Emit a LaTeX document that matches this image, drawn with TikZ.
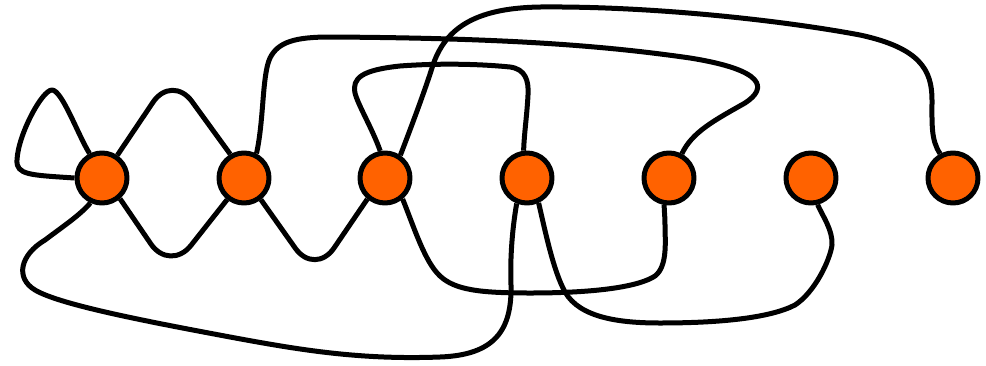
\documentclass[tikz,border=0pt]{standalone}
\usetikzlibrary{calc}
\definecolor{knotOrange}{HTML}{FF6200}
\definecolor{knotInk}{HTML}{000000}

\begin{document}
\begin{tikzpicture}[x=1pt,y=-1pt,line cap=round,line join=round]
\path[fill=white] (0,0) rectangle (986,365);
\tikzset{strand/.style={draw=knotInk,line width=5pt,line cap=butt},dot/.style={circle,draw=knotInk,fill=knotOrange,line width=5pt,minimum size=50pt,inner sep=0pt}}
\foreach \i/\x in {1/102,2/244,3/385,4/527,5/669,6/811,7/953}
  \node[dot] (n\i) at (\x,178) {};
% loop on the first dot
\draw[strand] (n1.117) .. controls (78,135) and (62,90) .. (52,90) .. controls (42,90) and (18,135) .. (17,160) .. controls (16,175) and (30,175) .. (n1.180);
% zigzags between the first three dots
\draw[strand,rounded corners=34pt] (n1.56) -- (172,74) -- (n2.120);
\draw[strand,rounded corners=34pt] (n1.-49) -- (170,272) -- (n2.-128);
\draw[strand,rounded corners=34pt] (n2.-52) -- (315,276) -- (n3.-130);
% upper strands
\draw[strand] (n2.63) .. controls (264,120) and (262,75) .. (270,58) .. controls (278,42) and (295,37) .. (330,37) .. controls (500,38) and (600,45) .. (690,58) .. controls (765,70) and (768,88) .. (745,103) .. controls (715,120) and (692,132) .. (n5.62);
\draw[strand] (n3.100) .. controls (372,128) and (358,105) .. (355,93) .. controls (352,78) and (362,70) .. (400,66) .. controls (440,63) and (480,64) .. (510,67) .. controls (525,69) and (529,80) .. (528,95) .. controls (527,115) and (524,135) .. (n4.97);
\draw[strand] (n3.56) .. controls (412,125) and (425,90) .. (432,68) .. controls (445,25) and (480,8) .. (540,7) .. controls (650,6) and (780,20) .. (860,35) .. controls (920,48) and (932,70) .. (932,100) .. controls (932,125) and (931,140) .. (n7.118);
% lower strands
\draw[strand] (n3.-50) .. controls (415,230) and (425,262) .. (440,276) .. controls (455,290) and (480,293) .. (530,293) .. controls (600,293) and (640,286) .. (655,276) .. controls (668,266) and (665,240) .. (665,225) .. controls (665,215) and (664,210) .. (n5.-100);
\draw[strand] (n4.-112) .. controls (512,230) and (510,260) .. (511,285) .. controls (512,330) and (495,355) .. (440,357) .. controls (360,360) and (300,350) .. (230,337) .. controls (150,322) and (60,305) .. (35,290) .. controls (15,278) and (20,255) .. (45,240) .. controls (65,225) and (80,215) .. (n1.-115);
\draw[strand] (n4.-65) .. controls (545,230) and (553,270) .. (565,292) .. controls (580,318) and (620,323) .. (660,323) .. controls (720,323) and (770,318) .. (795,305) .. controls (815,292) and (830,260) .. (832,245) .. controls (833,230) and (822,215) .. (n6.-76);
\end{tikzpicture}
\end{document}
